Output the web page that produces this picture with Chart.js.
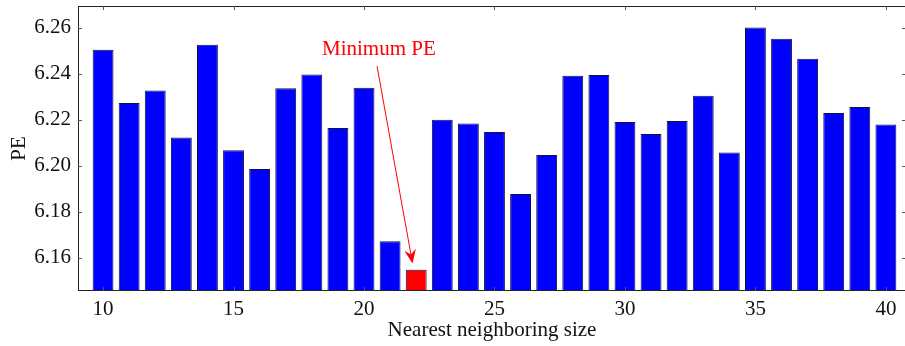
<!DOCTYPE html>
<html lang="en">
<head>
  <meta charset="UTF-8" />
  <title>PE vs nearest neighboring size</title>
  <script src="https://cdn.jsdelivr.net/npm/chart.js"></script>
  <style>
    html, body {
      margin: 0;
      padding: 0;
      background: #fff;
      overflow: hidden;
    }
    #wrap {
      width: 910px;
      height: 346px;
    }
  </style>
</head>
<body>
  <div id="wrap"><canvas id="peChart" width="910" height="346"></canvas></div>

  <script>
    // neighbourhood sizes and the PE
    const sizes = [10, 11, 12, 13, 14, 15, 16, 17, 18, 19, 20, 21, 22, 23, 24, 25,
                   26, 27, 28, 29, 30, 31, 32, 33, 34, 35, 36, 37, 38, 39, 40];
    const peValues = [6.2505, 6.2273, 6.2327, 6.2123, 6.2526, 6.2067, 6.1986, 6.2337,
                      6.2397, 6.2164, 6.2339, 6.1672, 6.1548, 6.2200, 6.2184, 6.2147,
                      6.1877, 6.2047, 6.2391, 6.2395, 6.2190, 6.2138, 6.2195, 6.2304,
                      6.2058, 6.2601, 6.2552, 6.2465, 6.2230, 6.2256, 6.2179];
    const yTickStep = 0.02;
    const xTickStep = 5;

    const minPE = Math.min(...peValues);
    const barColors = peValues.map(v => v === minPE ? '#ff0000' : '#0000ff');

    // label + arrow, in data coordinates
    const note = { text: 'Minimum PE', at: [20.57, 6.2505], from: [20.50, 6.2433], to: [21.86, 6.1575] };

    const serif = '"Liberation Serif", "Times New Roman", serif';

    const boxAndTicks = {
      id: 'boxAndTicks',
      afterDraw(chart) {
        const { ctx, chartArea: a, scales: { x, y } } = chart;
        const len = 4;
        ctx.save();
        ctx.strokeStyle = '#222';
        ctx.lineWidth = 1;
        ctx.strokeRect(a.left + 0.5, a.top + 0.5, a.right - a.left - 1, a.bottom - a.top - 1);
        ctx.strokeStyle = '#555';
        ctx.beginPath();
        x.ticks.forEach(t => {
          const px = Math.round(x.getPixelForValue(t.value)) + 0.5;
          ctx.moveTo(px, a.bottom); ctx.lineTo(px, a.bottom - len);
          ctx.moveTo(px, a.top); ctx.lineTo(px, a.top + len);
        });
        y.ticks.forEach(t => {
          const py = Math.round(y.getPixelForValue(t.value)) + 0.5;
          ctx.moveTo(a.left, py); ctx.lineTo(a.left + len, py);
          ctx.moveTo(a.right, py); ctx.lineTo(a.right - len, py);
        });
        ctx.stroke();
        ctx.restore();
      }
    };

    const annotate = {
      id: 'annotate',
      afterDatasetsDraw(chart) {
        const { ctx, scales: { x, y } } = chart;
        const x0 = x.getPixelForValue(note.from[0]), y0 = y.getPixelForValue(note.from[1]);
        const x1 = x.getPixelForValue(note.to[0]), y1 = y.getPixelForValue(note.to[1]);
        const ang = Math.atan2(y1 - y0, x1 - x0);
        const head = 15, spread = 0.4;
        ctx.save();
        ctx.strokeStyle = '#ff0000';
        ctx.fillStyle = '#ff0000';
        ctx.lineWidth = 1;
        ctx.beginPath();
        ctx.moveTo(x0, y0);
        ctx.lineTo(x1 - Math.cos(ang) * head * 0.6, y1 - Math.sin(ang) * head * 0.6);
        ctx.stroke();
        ctx.beginPath();
        ctx.moveTo(x1, y1);
        ctx.lineTo(x1 - head * Math.cos(ang - spread), y1 - head * Math.sin(ang - spread));
        ctx.lineTo(x1 - head * 0.6 * Math.cos(ang), y1 - head * 0.6 * Math.sin(ang));
        ctx.lineTo(x1 - head * Math.cos(ang + spread), y1 - head * Math.sin(ang + spread));
        ctx.closePath();
        ctx.fill();
        ctx.font = '21px ' + serif;
        ctx.textAlign = 'center';
        ctx.textBaseline = 'middle';
        ctx.fillText(note.text, x.getPixelForValue(note.at[0]), y.getPixelForValue(note.at[1]));
        ctx.restore();
      }
    };

    new Chart(document.getElementById('peChart'), {
      type: 'bar',
      data: {
        datasets: [{
          label: 'PE',
          data: sizes.map((s, i) => ({ x: s, y: peValues[i] })),
          backgroundColor: barColors,
          borderColor: '#14143a',
          borderWidth: 1,
          borderSkipped: 'start',
          barPercentage: 0.8,
          categoryPercentage: 1.0
        }]
      },
      options: {
        responsive: false,
        animation: false,
        layout: { padding: { top: 6, right: 4, left: 0, bottom: 0 } },
        plugins: {
          legend: { display: false },
          tooltip: { enabled: false }
        },
        scales: {
          x: {
            type: 'linear',
            min: 9.04,
            max: 40.77,
            offset: false,
            grid: { display: false },
            border: { display: false },
            ticks: {
              stepSize: xTickStep,
              includeBounds: false,
              color: '#111',
              font: { family: serif, size: 21 },
              padding: -2,
              maxRotation: 0,
              callback: v => String(v)
            },
            title: {
              display: true,
              text: 'Nearest neighboring size',
              color: '#111',
              font: { family: serif, size: 21 },
              padding: { top: 0, bottom: 3 }
            },
            afterFit: s => {
              s.height = 55;
              s.paddingLeft = 0;
              s.paddingRight = 0;
            }
          },
          y: {
            min: 6.1455,
            max: 6.2695,
            grid: { display: false },
            border: { display: false },
            ticks: {
              stepSize: yTickStep,
              includeBounds: false,
              color: '#111',
              font: { family: serif, size: 21 },
              padding: -1,
              callback: v => v.toFixed(2)
            },
            title: {
              display: true,
              text: 'PE',
              color: '#111',
              font: { family: serif, size: 21 },
              padding: { top: 7, bottom: 0 }
            },
            afterFit: s => {
              s.width = 78;
              s.paddingTop = 0;
              s.paddingBottom = 0;
            }
          }
        }
      },
      plugins: [annotate, boxAndTicks]
    });
  </script>
</body>
</html>
